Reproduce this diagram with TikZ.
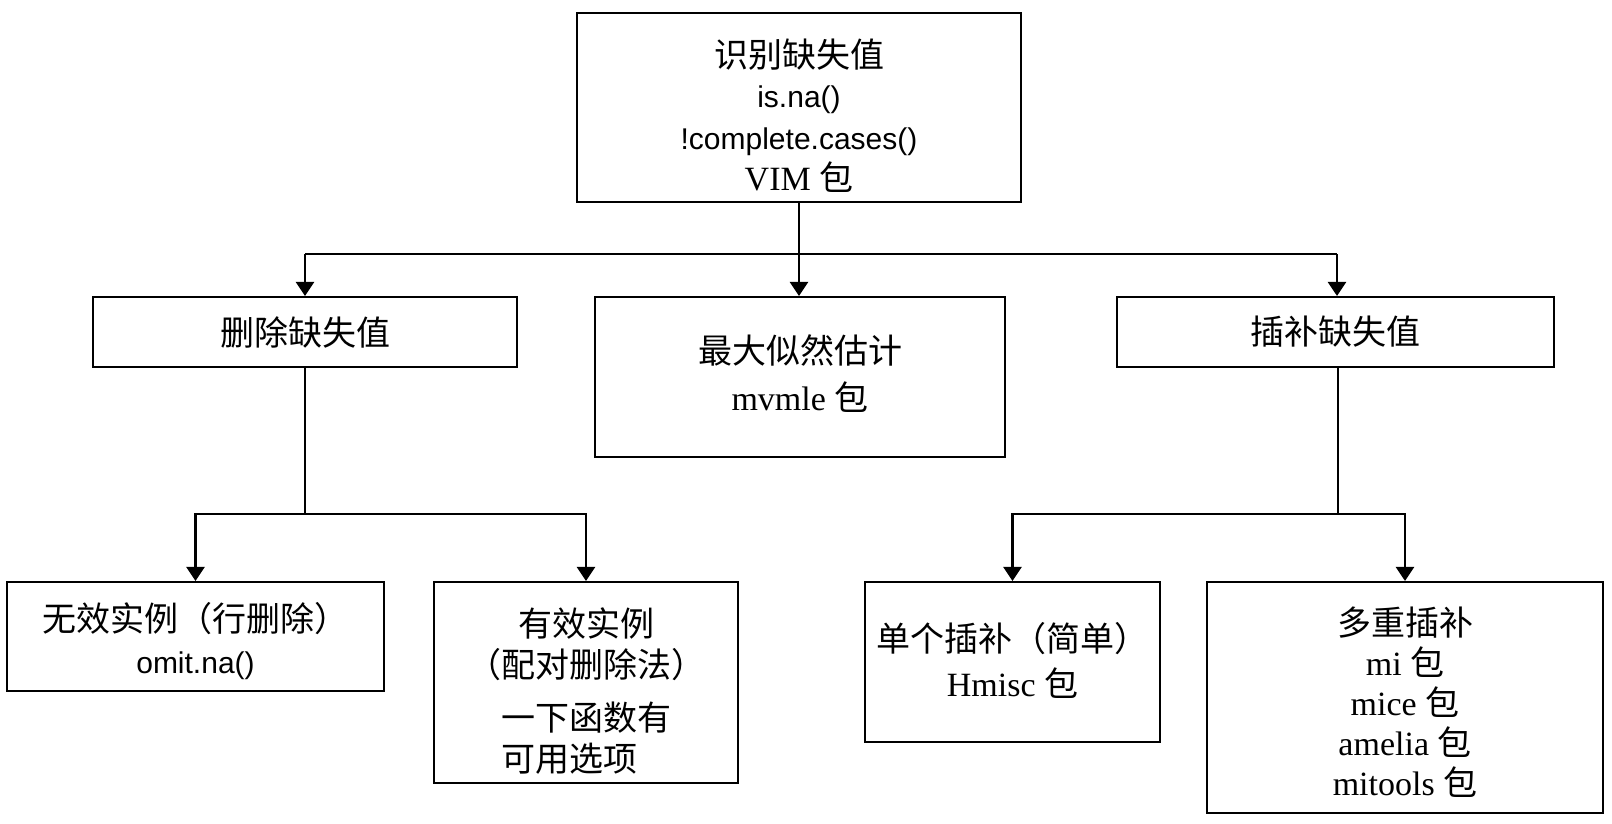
\documentclass[tikz,border=0pt]{standalone}
\usepackage{fontspec}
\setmainfont{Liberation Serif}
\newfontfamily\cjk{Noto Sans CJK SC}
\newfontfamily\arialf{Liberation Sans}
\usetikzlibrary{arrows.meta}
\begin{document}
\begin{tikzpicture}[x=1pt,y=-1pt,
  box/.style={draw, line width=2.1pt, inner sep=0pt},
  txt/.style={inner sep=0pt, align=center, font=\fontsize{34}{41}\selectfont},
  conn/.style={line width=2.4pt, line join=miter},
  thinconn/.style={line width=1.3pt},
  hline/.style={line width=1.7pt},
  arr/.style={-{Triangle[length=14pt,width=18pt]}, line width=2.4pt, line join=miter}
]
\useasboundingbox (0,0) rectangle (1612,824);

% boxes
\node[box, minimum width=444pt, minimum height=189pt] (top) at (799,107.5) {};
\node[box, minimum width=424pt, minimum height=70pt] (del) at (305,332) {};
\node[box, minimum width=410pt, minimum height=160pt] (mle) at (800,377) {};
\node[box, minimum width=437pt, minimum height=70pt] (imp) at (1335.5,332) {};
\node[box, minimum width=377pt, minimum height=109pt] (wx) at (195.5,636.5) {};
\node[box, minimum width=304pt, minimum height=201pt] (yx) at (586,682.5) {};
\node[box, minimum width=295pt, minimum height=160pt] (dan) at (1012.5,662) {};
\node[box, minimum width=396pt, minimum height=231pt] (duo) at (1405,697.5) {};

% texts
\node[txt] (toptext) at (799,116)
  {{\cjk 识别缺失值}\\[-1pt]
   {\arialf\fontsize{30}{41}\selectfont is.na()}\\[1pt]
   {\arialf\fontsize{30}{41}\selectfont !complete.cases()}\\
   VIM {\cjk 包}};
\node[txt] (deltext) at (305,332) {{\cjk 删除缺失值}};
\node[txt] (mletext) at (800,374)
  {{\cjk 最大似然估计}\\[6pt] mvmle {\cjk 包}};
\node[txt] (imptext) at (1335.5,332) {{\cjk 插补缺失值}};
\node[txt] (wxtext) at (195.5,641.5)
  {{\cjk 无效实例（行删除）}\\[1pt]
   {\arialf\fontsize{30}{41}\selectfont omit.na()}};
\node[txt] (yxtext) at (586,691.5)
  {{\cjk 有效实例}\\
   {\cjk （配对删除法）}\\[12pt]
   {\cjk 一下函数有}\\
   {\cjk 可用选项\hphantom{有}}};
\node[txt] (dantext) at (1012.5,660.5)
  {{\cjk 单个插补（简单）}\\[4pt] Hmisc {\cjk 包}};
\node[txt] (duotext) at (1405,702.5)
  {{\cjk 多重插补}\\[-1pt] mi {\cjk 包}\\[-1pt] mice {\cjk 包}\\[-1pt]
   amelia {\cjk 包}\\[-1pt] mitools {\cjk 包}};

% helper coordinates
\coordinate (hy) at (0,254);
\coordinate (by) at (0,514);
\coordinate (hl) at (del.north |- hy);
\coordinate (hr) at (1337,254);
\coordinate (bl) at (del.south |- by);
\coordinate (br) at (1338,514);

% top level connectors
\draw[hline] (hl) -- (hr);
\draw[arr] (top.south) -- (top.south |- mle.north);
\draw[arr] (hl) -- (del.north);
\draw[arr] (hr) -- (hr |- imp.north);

% delete branch
\draw[thinconn] (del.south) -- (bl);
\draw[arr] (bl) -| (wx.north);
\draw[arr] (bl) -| (yx.north);

% impute branch
\draw[thinconn] (br |- imp.south) -- (br);
\draw[arr] (br) -| (dan.north);
\draw[arr] (br) -| (duo.north);
\end{tikzpicture}
\end{document}
